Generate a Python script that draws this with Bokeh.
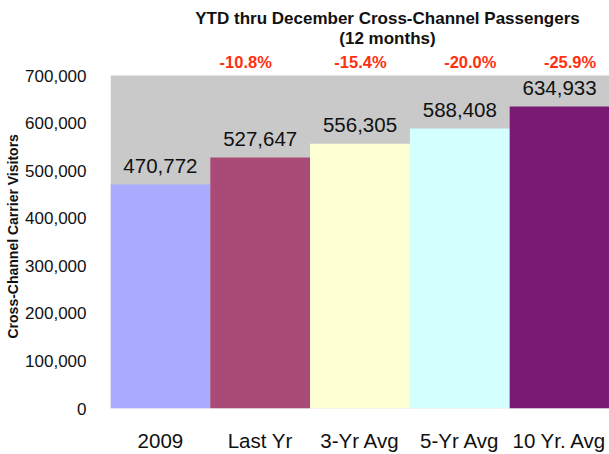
from bokeh.plotting import figure
from bokeh.models import (Range1d, FixedTicker, NumeralTickFormatter, Label, Title,
                          ColumnDataSource, BoxAnnotation)
from bokeh.embed import file_html
from bokeh.resources import INLINE
from bokeh.core.properties import value

# ---- data ----
categories = ["2009", "Last Yr", "3-Yr Avg", "5-Yr Avg", "10 Yr. Avg"]
passengers = [470772, 527647, 556305, 588408, 634933]
pct_change = [None, -10.8, -15.4, -20.0, -25.9]
bar_colors = ["#AAAAFF", "#AA4A77", "#FFFFD4", "#D4FFFF", "#7A1A75"]
y_ticks = [0, 100000, 200000, 300000, 400000, 500000, 600000, 700000]

# ---- layout constants ----
W, H = 609, 454
LEFT, BOTTOM = 109, 46          # borders around the frame
PLOT_TOP = 75                   # pixel row of the top of the grey plot area
pct_label_x = [0.855, 2.005, 3.105, 4.105]   # positions of the floating % boxes
FONT = "Liberation Sans"

frame_h = H - BOTTOM
y_end = y_ticks[-1] * frame_h / (frame_h - PLOT_TOP)

xs = list(range(len(categories)))
src = ColumnDataSource(dict(
    x=xs,
    top=passengers,
    color=bar_colors,
    label=[f"{v:,}" for v in passengers],
))

p = figure(width=W, height=H, output_backend="svg", toolbar_location=None,
           x_range=Range1d(-0.5, len(categories) - 0.5),
           y_range=Range1d(0, y_end),
           min_border_left=LEFT, min_border_right=0,
           min_border_top=0, min_border_bottom=BOTTOM)
p.background_fill_color = "white"
p.border_fill_color = "white"
p.outline_line_color = None
p.xgrid.visible = False
p.ygrid.visible = False

p.add_layout(BoxAnnotation(bottom=0, top=y_ticks[-1], fill_color="#C9C9C9",
                           fill_alpha=1.0, line_color=None, level="underlay"))

p.vbar(x="x", top="top", bottom=0, width=1.0, fill_color="color",
       line_color=None, source=src)

p.text(x="x", y="top", text="label", source=src, text_align="center",
       text_baseline="middle", y_offset=-18.5, text_font=value(FONT),
       text_font_size="20.5px", text_color="#111111")

# axes
p.yaxis.ticker = FixedTicker(ticks=y_ticks)
p.yaxis.formatter = NumeralTickFormatter(format="0,0")
p.xaxis.ticker = FixedTicker(ticks=xs)
p.xaxis.major_label_overrides = {i: c for i, c in zip(xs, categories)}
for ax in (p.xaxis, p.yaxis):
    ax.axis_line_color = None
    ax.major_tick_line_color = None
    ax.minor_tick_line_color = None
    ax.major_label_text_font = FONT
    ax.major_label_text_color = "#111111"
p.yaxis.major_label_text_font_size = "17px"
p.xaxis.major_label_text_font_size = "20.5px"
p.yaxis.major_label_standoff = 18
p.xaxis.major_label_standoff = 14

# y axis title, shifted along the axis like the reference
p.add_layout(Title(text="Cross-Channel  Carrier Visitors", align="left", offset=70,
                   text_font=FONT, text_font_size="14px", text_font_style="bold",
                   text_color="#111111", standoff=4), "left")

# chart title (two lines) -- screen units relative to the frame's bottom-left
for txt, yy in (("YTD thru December Cross-Channel Passengers", frame_h - 17.5),
                ("(12 months)", frame_h - 38.2)):
    p.add_layout(Label(x=277, y=yy, x_units="screen", y_units="screen",
                       text=txt, text_align="center", text_baseline="middle",
                       text_font=FONT, text_font_size="17px", text_font_style="bold",
                       text_color="#111111"))

# percent change labels
for xp, pc in zip(pct_label_x, pct_change[1:]):
    p.add_layout(Label(x=xp, y=frame_h - 61.3, x_units="data", y_units="screen",
                       text=f"{pc:.1f}%", text_align="center", text_baseline="middle",
                       text_font=FONT, text_font_size="16.5px", text_font_style="bold",
                       text_color="#FF3010"))

open("out.html", "w").write(file_html(p, INLINE))
